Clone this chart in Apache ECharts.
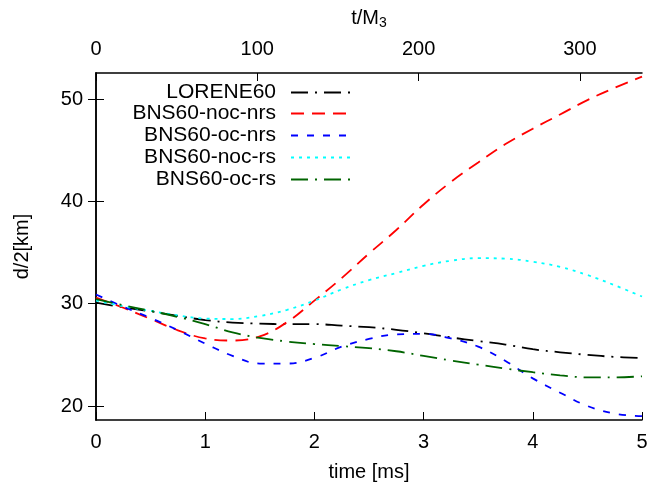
<!DOCTYPE html>
<html>
<head>
<meta charset="utf-8">
<script src="https://cdn.jsdelivr.net/npm/echarts@6/dist/echarts.min.js"></script>
<style>html,body{margin:0;padding:0;background:#fff}#c{width:651px;height:487px}</style>
</head>
<body>
<div id="c"></div>
<script>
const times = [0,0.25,0.5,0.75,1,1.25,1.5,1.75,2,2.25,2.5,2.75,3,3.25,3.5,3.75,4,4.25,4.5,4.75,5];
const lorene60   = [30.1,29.65,29.25,28.8,28.4,28.15,28.05,28.0,28.0,27.85,27.7,27.45,27.1,26.7,26.35,26.0,25.55,25.25,25.0,24.8,24.7];
const nocNrs     = [30.6,29.6,28.5,27.4,26.6,26.4,26.8,28.2,30.3,32.5,34.9,37.2,39.7,41.9,43.8,45.6,47.1,48.5,49.9,51.1,52.2];
const ocNrs      = [30.9,29.7,28.6,27.4,26.1,24.9,24.15,24.15,24.7,25.8,26.55,27.0,27.05,26.6,25.8,24.4,22.7,21.3,20.0,19.25,19.0];
const nocRs      = [30.3,29.75,29.3,28.85,28.55,28.5,28.8,29.4,30.3,31.4,32.3,33.0,33.7,34.2,34.45,34.4,34.1,33.6,32.8,31.8,30.7];
const ocRs       = [30.45,29.85,29.3,28.7,28.0,27.2,26.65,26.3,26.05,25.85,25.65,25.35,24.9,24.45,24.05,23.65,23.3,23.0,22.8,22.8,22.9];
const names = ['LORENE60','BNS60-noc-nrs','BNS60-oc-nrs','BNS60-noc-rs','BNS60-oc-rs'];
const yTicks = [20,30,40,50];
const topTicks = [0,100,200,300];
const xMax = 5, topMax = 338.5, yMin = 18.63, yMax = 52.55;

const seriesVals = [lorene60, nocNrs, ocNrs, nocRs, ocRs];
const colors = ['#000000','#ff0000','#0000ff','#00ffff','#006400'];
const dashes = [[17,7,2,7],[13,8],[7,9],[3,5],[17,7,2,7]];
const FONT = 'Liberation Sans, Arial, sans-serif';

const chart = echarts.init(document.getElementById('c'));
const legendTops = [82,103,125,147,169];
const legends = names.map((n,i)=>({
  data:[n], orient:'vertical', align:'right', right:299, top:legendTops[i],
  itemWidth:60, itemHeight:14, padding:0,
  itemStyle:{opacity:0},
  textStyle:{fontFamily:FONT, fontSize:21, color:'#000', lineHeight:21, padding:[0,10,0,0]}
}));
const series = seriesVals.map((vals,i)=>({
  name:names[i], type:'line', xAxisIndex:0, yAxisIndex:0, symbol:'circle', showSymbol:false, smooth:0.4,
  data: times.map((t,j)=>[t, vals[j]]),
  lineStyle:{color:colors[i], width:1.8, type:dashes[i]},
  itemStyle:{color:colors[i]}
}));
const tick = {show:true, inside:true, length:8, lineStyle:{color:'#000', width:1}};
const axLine = {show:true, lineStyle:{color:'#000', width:1.5}};
chart.setOption({
  animation:false,
  grid:{left:96, right:9, top:73, bottom:67, containLabel:false},
  legend: legends,
  xAxis:[
    {type:'value', min:0, max:xMax, interval:1, position:'bottom',
     axisLine:axLine, axisTick:tick, splitLine:{show:false},
     axisLabel:{color:'#000', fontFamily:FONT, fontSize:20, margin:12},
     name:'time [ms]', nameLocation:'middle', nameGap:42,
     nameTextStyle:{color:'#000', fontFamily:FONT, fontSize:20}},
    {type:'value', min:0, max:topMax, position:'top',
     axisLine:axLine, axisTick:Object.assign({customValues:topTicks}, tick), splitLine:{show:false},
     axisLabel:{color:'#000', fontFamily:FONT, fontSize:20, margin:14, customValues:topTicks},
     name:'{a|t/M}{s|3}', nameLocation:'middle', nameGap:43,
     nameTextStyle:{color:'#000', fontFamily:FONT, fontSize:20,
       rich:{a:{fontFamily:FONT, fontSize:20, color:'#000'}, s:{fontFamily:FONT, fontSize:14, color:'#000', padding:[10,0,0,0]}}}}
  ],
  yAxis:[
    {type:'value', min:yMin, max:yMax, position:'left',
     axisLine:axLine, axisTick:Object.assign({customValues:yTicks}, tick), splitLine:{show:false},
     axisLabel:{color:'#000', fontFamily:FONT, fontSize:20, margin:13, customValues:yTicks},
     name:'d/2[km]', nameLocation:'middle', nameGap:64, nameRotate:90,
     nameTextStyle:{color:'#000', fontFamily:FONT, fontSize:20}},
    {type:'value', min:yMin, max:yMax, position:'right',
     axisLine:axLine, axisTick:Object.assign({customValues:yTicks}, tick), splitLine:{show:false},
     axisLabel:{show:false}}
  ],
  series: series
});
</script>
</body>
</html>
